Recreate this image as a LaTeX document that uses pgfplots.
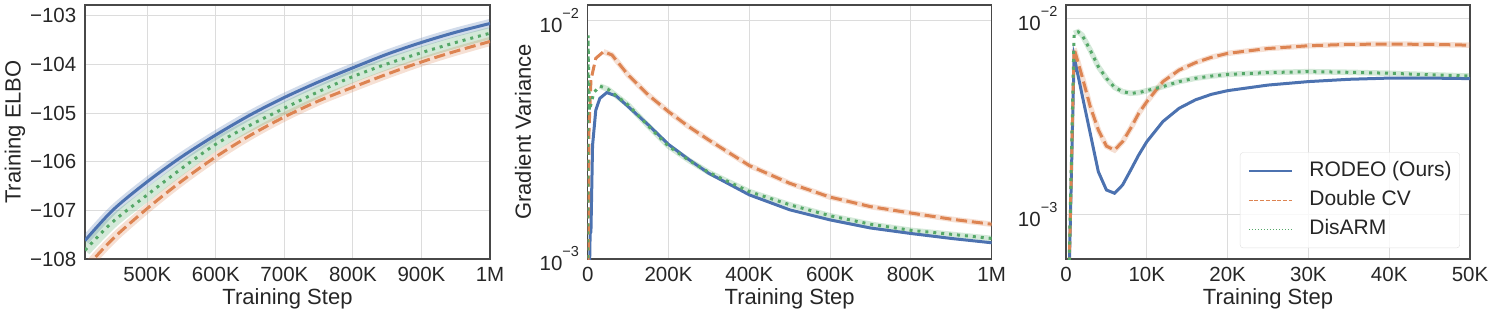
\documentclass[border=0pt]{standalone}
\usepackage{pgfplots}
\pgfplotsset{compat=1.18}
\usepackage{fontspec}
\setmainfont{Liberation Sans}
\definecolor{cB}{HTML}{4C72B0}
\definecolor{cO}{HTML}{DD8452}
\definecolor{cG}{HTML}{55A868}
\definecolor{gridc}{HTML}{DCDCDC}
\definecolor{framec}{HTML}{484848}
\definecolor{txt}{HTML}{262626}
\newcommand{\sci}[1]{10\raisebox{14bp}{\fontsize{14.5bp}{14.5bp}\selectfont #1}}
\pgfplotsset{
 base/.style={
  scale only axis, width=404bp, height=254bp,
  axis line style={framec, line width=1.5bp},
  grid=major, major grid style={gridc, line width=1bp},
  major tick length=0pt, minor tick length=0pt,
  tick label style={font=\fontsize{20.5bp}{24bp}\selectfont, inner sep=0pt, text=txt},
  label style={font=\fontsize{22bp}{26bp}\selectfont, text=txt},
  xticklabel style={anchor=base, yshift=-22.7bp},
  yticklabel style={anchor=east, xshift=-8.5bp},
  xlabel style={at={(axis description cs:0.5,-0.181)}, anchor=base},
  xlabel={Training Step},
  scaled x ticks=false,
 },
 lB/.style={cB, line width=3bp},
 lO/.style={cO, line width=3bp, dash pattern=on 11.1bp off 4.8bp},
 lG/.style={cG, line width=3bp, dash pattern=on 3bp off 4.95bp},
 band/.style={#1, line width=9bp, opacity=0.25},
 hband/.style={#1, line width=5.5bp, opacity=0.25},
}
\begin{document}
\begin{tikzpicture}
\path[use as bounding box] (0,0) rectangle (1495bp,317bp);
% ---------- Panel 1 ----------
\begin{axis}[base, at={(85bp,58bp)}, anchor=south west, width=405bp,
  xmin=409, xmax=1000, ymin=-108, ymax=-102.78,
  xtick={500,600,700,800,900,1000},
  xticklabels={500K,600K,700K,800K,900K,1M},
  ytick={-108,-107,-106,-105,-104,-103},
  yticklabels={−108,−107,−106,−105,−104,−103},
  ylabel={Training ELBO},
  ylabel style={at={(axis description cs:-0.173,0.5)}, anchor=center},
]
\addplot[band=cB, smooth] coordinates {(409,-107.62)(450,-106.99)(500,-106.41)(550,-105.90)(600,-105.45)(650,-105.04)(700,-104.68)(750,-104.36)(800,-104.07)(850,-103.79)(900,-103.55)(950,-103.34)(1000,-103.16)};
\addplot[band=cO, smooth] coordinates {(409,-108.2)(450,-107.58)(500,-106.96)(550,-106.40)(600,-105.90)(650,-105.46)(700,-105.08)(750,-104.75)(800,-104.47)(850,-104.20)(900,-103.95)(950,-103.73)(1000,-103.53)};
\addplot[band=cG, line width=12bp, smooth] coordinates {(409,-107.82)(450,-107.23)(500,-106.68)(550,-106.14)(600,-105.64)(650,-105.25)(700,-104.90)(750,-104.56)(800,-104.25)(850,-103.99)(900,-103.76)(950,-103.55)(1000,-103.36)};
\addplot[lB, smooth] coordinates {(409,-107.62)(450,-106.99)(500,-106.41)(550,-105.90)(600,-105.45)(650,-105.04)(700,-104.68)(750,-104.36)(800,-104.07)(850,-103.79)(900,-103.55)(950,-103.34)(1000,-103.16)};
\addplot[lO, smooth] coordinates {(409,-108.2)(450,-107.58)(500,-106.96)(550,-106.40)(600,-105.90)(650,-105.46)(700,-105.08)(750,-104.75)(800,-104.47)(850,-104.20)(900,-103.95)(950,-103.73)(1000,-103.53)};
\addplot[lG, smooth] coordinates {(409,-107.82)(450,-107.23)(500,-106.68)(550,-106.14)(600,-105.64)(650,-105.25)(700,-104.90)(750,-104.56)(800,-104.25)(850,-103.99)(900,-103.76)(950,-103.55)(1000,-103.36)};
\end{axis}
% ---------- Panel 2 ----------
\begin{axis}[base, at={(587.7bp,58bp)}, anchor=south west,
  ymode=log, xmin=0, xmax=1000, ymin=1e-3, ymax=1.167e-2,
  xtick={0,200,400,600,800,1000},
  xticklabels={0,200K,400K,600K,800K,1M},
  ytick={1e-3,1e-2}, yticklabels={\sci{−3},\sci{−2}},
  ylabel={Gradient Variance},
  ylabel style={at={(axis description cs:-0.160,0.5)}, anchor=center},
]
\addplot[hband=cO] coordinates {(39,7.43e-3)(60,7.2e-3)(100,5.93e-3)(150,4.89e-3)(200,4.16e-3)(250,3.6e-3)(300,3.16e-3)(400,2.47e-3)(500,2.08e-3)(600,1.82e-3)(700,1.66e-3)(800,1.56e-3)(900,1.47e-3)(1000,1.40e-3)};
\addplot[hband=cG] coordinates {(30,5.33e-3)(50,5.17e-3)(100,4.44e-3)(150,3.62e-3)(200,2.98e-3)(250,2.6e-3)(300,2.31e-3)(400,1.92e-3)(500,1.69e-3)(600,1.52e-3)(700,1.40e-3)(800,1.32e-3)(900,1.27e-3)(1000,1.22e-3)};
\addplot[lB] coordinates {(4,8e-4)(6,1.28e-3)(8,1.3e-3)(12,3.0e-3)(20,4.22e-3)(30,4.73e-3)(47,5.0e-3)(70,4.85e-3)(100,4.37e-3)(150,3.66e-3)(200,3.03e-3)(250,2.62e-3)(300,2.29e-3)(400,1.86e-3)(500,1.61e-3)(600,1.46e-3)(700,1.35e-3)(800,1.28e-3)(900,1.22e-3)(1000,1.17e-3)};
\addplot[lO] coordinates {(1,8e-4)(3,3.37e-3)(8,5.65e-3)(20,6.97e-3)(39,7.43e-3)(60,7.2e-3)(100,5.93e-3)(150,4.89e-3)(200,4.16e-3)(250,3.6e-3)(300,3.16e-3)(400,2.47e-3)(500,2.08e-3)(600,1.82e-3)(700,1.66e-3)(800,1.56e-3)(900,1.47e-3)(1000,1.40e-3)};
\addplot[lG] coordinates {(0.2,8e-4)(0.8,8.7e-3)(4,4.2e-3)(10,4.6e-3)(15,5.0e-3)(30,5.33e-3)(50,5.17e-3)(100,4.44e-3)(150,3.62e-3)(200,2.98e-3)(250,2.6e-3)(300,2.31e-3)(400,1.92e-3)(500,1.69e-3)(600,1.52e-3)(700,1.40e-3)(800,1.32e-3)(900,1.27e-3)(1000,1.22e-3)};
\end{axis}
% ---------- Panel 3 ----------
\begin{axis}[base, at={(1066bp,58bp)}, anchor=south west,
  ymode=log, xmin=0, xmax=50, ymin=5.97e-4, ymax=1.17e-2,
  xtick={0,10,20,30,40,50},
  xticklabels={0,10K,20K,30K,40K,50K},
  ytick={1e-3,1e-2}, yticklabels={\sci{−3},\sci{−2}},
  legend style={at={(0.975,0.043)}, anchor=south east,
    draw=gray!25, rounded corners=3bp, fill=white, fill opacity=0.8, text opacity=1,
    text=txt,
    font=\fontsize{21bp}{25bp}\selectfont, inner xsep=8bp, inner ysep=8.5bp,
    row sep=9.2bp, column sep=17bp,
    nodes={inner sep=0pt, text height=15.5bp, text depth=4.5bp}},
  legend cell align=left,
  legend image code/.code={\draw[#1] (0bp,0bp) -- (43bp,0bp);},
]
\addlegendimage{cB, line width=1.2bp}
\addlegendentry{RODEO (Ours)}
\addlegendimage{cO, line width=1.2bp, dash pattern=on 4bp off 1.7bp}
\addlegendentry{Double CV}
\addlegendimage{cG, line width=1.2bp, dash pattern=on 1.2bp off 1.8bp}
\addlegendentry{DisARM}
\addplot[hband=cO, forget plot] coordinates {(1,7.03e-3)(2,5.05e-3)(3,3.56e-3)(4,2.71e-3)(5,2.24e-3)(6,2.14e-3)(7,2.36e-3)(8,2.76e-3)(9,3.29e-3)(10,3.77e-3)(12,4.77e-3)(14,5.46e-3)(16,5.95e-3)(18,6.34e-3)(20,6.64e-3)(25,7.03e-3)(30,7.26e-3)(35,7.38e-3)(40,7.40e-3)(45,7.38e-3)(50,7.31e-3)};
\addplot[hband=cG, forget plot] coordinates {(1,8.39e-3)(1.5,8.55e-3)(2,8.22e-3)(3,6.90e-3)(4,5.68e-3)(5,4.96e-3)(6,4.46e-3)(7,4.24e-3)(8,4.16e-3)(9,4.19e-3)(10,4.29e-3)(12,4.50e-3)(14,4.77e-3)(16,4.96e-3)(18,5.09e-3)(20,5.19e-3)(25,5.30e-3)(30,5.36e-3)(35,5.32e-3)(40,5.26e-3)(45,5.17e-3)(50,5.09e-3)};
\addplot[lB, forget plot] coordinates {(0,1e-4)(1,6.38e-3)(2,4.07e-3)(3,2.60e-3)(4,1.66e-3)(5,1.34e-3)(6,1.29e-3)(7,1.42e-3)(8,1.69e-3)(9,2.02e-3)(10,2.36e-3)(12,2.99e-3)(14,3.49e-3)(16,3.85e-3)(18,4.11e-3)(20,4.29e-3)(25,4.58e-3)(30,4.77e-3)(35,4.90e-3)(40,4.97e-3)(45,4.97e-3)(50,4.94e-3)};
\addplot[lO, forget plot] coordinates {(0,1e-4)(1,7.03e-3)(2,5.05e-3)(3,3.56e-3)(4,2.71e-3)(5,2.24e-3)(6,2.14e-3)(7,2.36e-3)(8,2.76e-3)(9,3.29e-3)(10,3.77e-3)(12,4.77e-3)(14,5.46e-3)(16,5.95e-3)(18,6.34e-3)(20,6.64e-3)(25,7.03e-3)(30,7.26e-3)(35,7.38e-3)(40,7.40e-3)(45,7.38e-3)(50,7.31e-3)};
\addplot[lG, forget plot] coordinates {(0,1e-4)(1,8.39e-3)(1.5,8.55e-3)(2,8.22e-3)(3,6.90e-3)(4,5.68e-3)(5,4.96e-3)(6,4.46e-3)(7,4.24e-3)(8,4.16e-3)(9,4.19e-3)(10,4.29e-3)(12,4.50e-3)(14,4.77e-3)(16,4.96e-3)(18,5.09e-3)(20,5.19e-3)(25,5.30e-3)(30,5.36e-3)(35,5.32e-3)(40,5.26e-3)(45,5.17e-3)(50,5.09e-3)};
\end{axis}
\end{tikzpicture}
\end{document}
